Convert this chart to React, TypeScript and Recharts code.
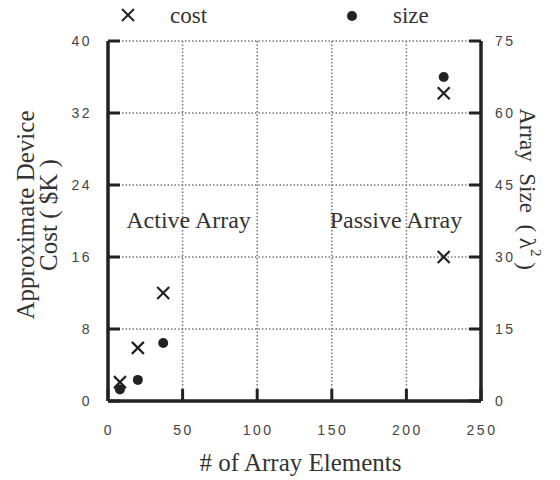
import React from 'react';
import { ScatterChart, Scatter, XAxis, YAxis, CartesianGrid, Legend, ReferenceDot, Label } from 'recharts';

// ---- data ----
const costElements = [8, 20, 37, 225, 225];
const costValues = [2.1, 5.9, 12, 34.2, 16];
const sizeElements = [8, 20, 37, 225];
const sizeValues = [2.4, 4.4, 12.1, 67.5];
const xTicks = [0, 50, 100, 150, 200, 250];
const costTicks = [0, 8, 16, 24, 32, 40];
const sizeTicks = [0, 15, 30, 45, 60, 75];
const seriesNames = ['cost', 'size'];
const regionLabels = ['Active Array', 'Passive Array'];
const regionX = [54, 193];
const regionY = [20.2, 20.2];
const xTitle = '# of Array Elements';
const leftTitle = ['Approximate Device', 'Cost ( $K )'];
const rightTitle = ['Array  Size  ( λ', '2', ' )'];

const costData = costElements.map((x, i) => ({ x, y: costValues[i] }));
const sizeData = sizeElements.map((x, i) => ({ x, y: sizeValues[i] }));

const SERIF = '"Liberation Serif", "Times New Roman", serif';
const SANS = '"Liberation Sans", Arial, sans-serif';
const INK = '#222';
const TXT = '#333';

const CrossShape = (props: any) => {
  const { cx, cy } = props;
  const s = 6;
  return (
    <g>
      <line x1={cx - s} y1={cy - s} x2={cx + s} y2={cy + s} stroke={INK} strokeWidth={2.2} />
      <line x1={cx - s} y1={cy + s} x2={cx + s} y2={cy - s} stroke={INK} strokeWidth={2.2} />
    </g>
  );
};

const DotShape = (props: any) => {
  const { cx, cy } = props;
  return <circle cx={cx} cy={cy} r={5} fill={INK} />;
};

const tickText = { fontFamily: SANS, fontSize: 14, letterSpacing: 2.5, fill: '#444' };

const LeftTick = (props: any) => {
  const { x, y, payload } = props;
  return (
    <text x={x} y={y} dy={5} textAnchor="end" {...tickText}>
      {payload.value}
    </text>
  );
};

const RightTick = (props: any) => {
  const { x, y, payload } = props;
  return (
    <text x={x} y={y} dy={5} textAnchor="start" {...tickText}>
      {payload.value}
    </text>
  );
};

const BottomTick = (props: any) => {
  const { x, y, payload } = props;
  return (
    <text x={x + 1} y={y + 34} textAnchor="middle" {...tickText}>
      {payload.value}
    </text>
  );
};

const LeftTitle = (props: any) => {
  const vb = props.viewBox;
  const plotLeft = vb.x + vb.width;
  const cy = vb.y + vb.height / 2 - 6;
  const x1 = plotLeft - 83;
  const x2 = plotLeft - 60;
  return (
    <g fontFamily={SERIF} fontSize={25} fill={TXT}>
      <text x={x1} y={cy} textAnchor="middle" dominantBaseline="central" transform={`rotate(-90, ${x1}, ${cy})`}>
        {leftTitle[0]}
      </text>
      <text x={x2} y={cy} textAnchor="middle" dominantBaseline="central" transform={`rotate(-90, ${x2}, ${cy})`}>
        {leftTitle[1]}
      </text>
    </g>
  );
};

const RightTitle = (props: any) => {
  const vb = props.viewBox;
  const cx = vb.x + 46;
  const cy = vb.y + vb.height / 2 - 32;
  return (
    <text
      x={cx}
      y={cy}
      textAnchor="middle"
      dominantBaseline="central"
      transform={`rotate(90, ${cx}, ${cy})`}
      fontFamily={SERIF}
      fontSize={23}
      fill={TXT}
      style={{ whiteSpace: 'pre' }}
    >
      {rightTitle[0]}
      <tspan fontSize={15} dy={-9}>{rightTitle[1]}</tspan>
      <tspan dy={9}>{rightTitle[2]}</tspan>
    </text>
  );
};

const BottomTitle = (props: any) => {
  const vb = props.viewBox;
  const cx = vb.x + vb.width / 2 + 6;
  const cy = vb.y + 61;
  return (
    <text x={cx} y={cy} textAnchor="middle" dominantBaseline="central" fontFamily={SERIF} fontSize={25} fill={TXT}>
      {xTitle}
    </text>
  );
};

const LegendContent = (props: any) => {
  const payload = props.payload || [];
  const n0 = payload[0]?.value ?? seriesNames[0];
  const n1 = payload[1]?.value ?? seriesNames[1];
  return (
    <svg width={560} height={40} style={{ display: 'block', overflow: 'visible' }}>
      <g>
        <line x1={114} y1={9} x2={126} y2={21} stroke={INK} strokeWidth={2} />
        <line x1={114} y1={21} x2={126} y2={9} stroke={INK} strokeWidth={2} />
      </g>
      <text x={162} y={23} fontFamily={SERIF} fontSize={23} fill={TXT}>{n0}</text>
      <circle cx={344} cy={16} r={5} fill={INK} />
      <text x={385} y={23} fontFamily={SERIF} fontSize={23} fill={TXT}>{n1}</text>
    </svg>
  );
};

const axisLineStyle = { stroke: INK, strokeWidth: 3.5 };
const tickLineStyle = { stroke: INK, strokeWidth: 3 };

export default function App() {
  return (
    <ScatterChart width={560} height={480} margin={{ top: 33, right: 27, bottom: 47, left: 40 }}>
      <CartesianGrid yAxisId="cost" stroke="#777" strokeDasharray="1.5 2" strokeWidth={1.5} />
      <XAxis
        type="number"
        dataKey="x"
        domain={[0, 250]}
        ticks={xTicks}
        height={40}
        stroke={INK}
        tickSize={-12}
        tickMargin={12}
        tick={<BottomTick />}
        axisLine={axisLineStyle}
        tickLine={tickLineStyle}
        interval={0}
      >
        <Label content={<BottomTitle />} />
      </XAxis>
      <YAxis
        yAxisId="cost"
        orientation="left"
        type="number"
        dataKey="y"
        domain={[0, 40]}
        ticks={costTicks}
        width={60}
        stroke={INK}
        tickSize={-12}
        tickMargin={28}
        tick={<LeftTick />}
        axisLine={axisLineStyle}
        tickLine={tickLineStyle}
        interval={0}
      >
        <Label content={<LeftTitle />} />
      </YAxis>
      <YAxis
        yAxisId="size"
        orientation="right"
        type="number"
        dataKey="y"
        domain={[0, 75]}
        ticks={sizeTicks}
        width={60}
        stroke={INK}
        tickSize={-12}
        tickMargin={26}
        tick={<RightTick />}
        axisLine={axisLineStyle}
        tickLine={tickLineStyle}
        interval={0}
      >
        <Label content={<RightTitle />} />
      </YAxis>
      <Legend
        layout="vertical"
        align="center"
        verticalAlign="middle"
        wrapperStyle={{ top: -8, left: 0, width: 560, height: 40 }}
        content={<LegendContent />}
      />
      {regionLabels.map((t, i) => (
        <ReferenceDot
          key={t}
          yAxisId="cost"
          x={regionX[i]}
          y={regionY[i]}
          r={1}
          fill="none"
          stroke="none"
          label={{ value: t, position: 'center', fontFamily: SERIF, fontSize: 24, fill: TXT }}
        />
      ))}
      <Scatter name={seriesNames[0]} data={costData} yAxisId="cost" shape={<CrossShape />} isAnimationActive={false} />
      <Scatter name={seriesNames[1]} data={sizeData} yAxisId="size" shape={<DotShape />} isAnimationActive={false} />
    </ScatterChart>
  );
}
